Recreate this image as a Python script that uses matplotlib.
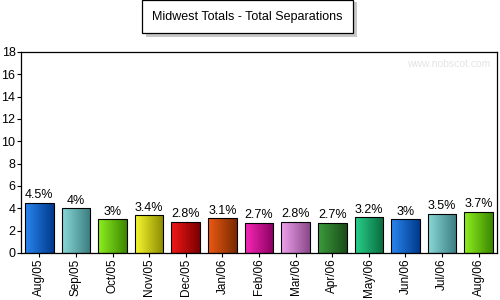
import numpy as np
import matplotlib.pyplot as plt
from matplotlib.colors import LinearSegmentedColormap
from matplotlib.patches import FancyBboxPatch

months = ['Aug/05', 'Sep/05', 'Oct/05', 'Nov/05', 'Dec/05', 'Jan/06', 'Feb/06',
          'Mar/06', 'Apr/06', 'May/06', 'Jun/06', 'Jul/06', 'Aug/06']
values = [4.5, 4.0, 3.0, 3.4, 2.8, 3.1, 2.7, 2.8, 2.7, 3.2, 3.0, 3.5, 3.7]
labels = ['4.5%', '4%', '3%', '3.4%', '2.8%', '3.1%', '2.7%', '2.8%', '2.7%',
          '3.2%', '3%', '3.5%', '3.7%']
# light -> dark for the horizontal gradient
colors = [('#2a86f0', '#003a8c'), ('#8ad8d8', '#3a7c80'), ('#8ef020', '#3c8800'),
          ('#f8f830', '#8a8a00'), ('#f41818', '#7a0000'), ('#ec5a14', '#7a2a00'),
          ('#f828b8', '#8a0060'), ('#eea0ee', '#8a4a8a'), ('#3c9c3c', '#1a4c1a'),
          ('#28d08c', '#0a6a3c'), ('#2a86f0', '#003a8c'), ('#8ad8d8', '#3a7c80'),
          ('#8ef020', '#3c8800')]

plt.rcParams['font.family'] = ['Liberation Sans', 'DejaVu Sans']

fig = plt.figure(figsize=(5, 3), dpi=100)
ax = fig.add_axes([0.042, 0.157, 0.952, 0.67])

x = np.arange(len(months))
bars = ax.bar(x, values, width=0.78, color='none', edgecolor='black', linewidth=0.8, zorder=3)
grad = np.linspace(0, 1, 64).reshape(1, -1)
for b, (c1, c2), lab in zip(bars, colors, labels):
    cmap = LinearSegmentedColormap.from_list('g', [c1, c2])
    x0, w, h = b.get_x(), b.get_width(), b.get_height()
    im = ax.imshow(grad, cmap=cmap, aspect='auto', extent=[x0, x0 + w, 0, h], zorder=2)
    im.set_clip_path(b)
    ax.text(x0 + w / 2, h + 0.12, lab, ha='center', va='bottom', fontsize=9)

ax.set_xlim(-0.5, len(months) - 0.5)
ax.set_ylim(0, 18)
ax.set_yticks(range(0, 19, 2))
ax.set_xticks(x)
ax.set_xticklabels(months, rotation=90, fontsize=8.5)
ax.tick_params(axis='y', labelsize=9, length=3, pad=1)
ax.tick_params(axis='x', length=3, pad=1)
for s in ['left', 'bottom', 'top', 'right']:
    ax.spines[s].set_linewidth(0.9)

ax.text(0.985, 0.94, 'www.nobscot.com', transform=ax.transAxes, ha='right', va='center',
        fontsize=7.5, color='#e4e4e4')

# title box with shadow
fig.patches.append(FancyBboxPatch((0.292, 0.876), 0.422, 0.117, boxstyle='square,pad=0',
                                  transform=fig.transFigure, facecolor='#c8c8c8',
                                  edgecolor='none', zorder=0))
fig.patches.append(FancyBboxPatch((0.284, 0.89), 0.422, 0.11, boxstyle='square,pad=0',
                                  transform=fig.transFigure, facecolor='white',
                                  edgecolor='black', linewidth=0.9, zorder=1))
fig.text(0.495, 0.943, 'Midwest Totals - Total Separations', ha='center', va='center', fontsize=9)

fig.savefig('out.png', dpi=100)
